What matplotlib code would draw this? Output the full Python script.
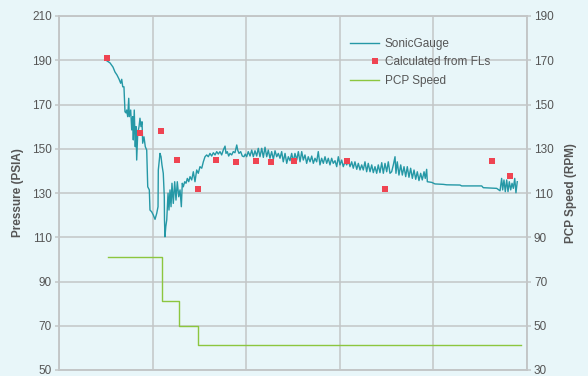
import matplotlib
matplotlib.use("Agg")
import matplotlib.pyplot as plt
from matplotlib.legend_handler import HandlerLine2D

# ---- data (time in days, pressure in PSIA, speed in RPM) ----
sonic_t = [5.13, 5.45, 5.77, 5.98, 6.20, 6.41, 6.59, 6.70, 6.81, 6.94, 7.05, 7.16, 7.23, 7.34, 7.45,
           7.51, 7.66, 7.77, 7.87, 7.94, 8.04, 8.15, 8.23, 8.30, 8.41, 8.55, 8.65, 8.76, 8.87, 8.94,
           9.08, 9.22, 9.37, 9.48, 9.65, 9.72, 9.90, 10.07, 10.26, 10.44, 10.58, 10.61, 10.72, 10.79,
           10.90, 11.00, 11.14, 11.25, 11.27, 11.32, 11.41, 11.51, 11.65, 11.75, 11.86, 11.97, 12.07,
           12.21, 12.36, 12.50, 12.64, 12.79, 12.93, 13.07, 13.17, 13.28, 13.43, 13.57, 13.71, 13.86,
           14.00, 14.18, 14.35, 14.53, 14.71, 14.88, 15.06, 15.25, 15.42, 15.60, 15.78, 15.95, 16.13,
           16.31, 16.49, 16.67, 16.85, 17.02, 17.20, 17.38, 17.55, 17.74, 17.84, 17.98, 18.13, 18.27,
           18.45, 18.62, 18.80, 18.99, 19.09, 19.23, 19.41, 19.58, 19.76, 19.90, 20.05, 20.22, 20.41,
           20.59, 20.76, 20.94, 21.12, 21.29, 21.47, 21.66, 21.83, 22.01, 22.19, 22.36, 22.54, 22.72,
           22.90, 23.08, 23.26, 23.43, 23.61, 23.79, 23.96, 24.15, 24.33, 24.50, 24.68, 24.86, 25.03,
           25.21, 25.40, 25.57, 25.75, 25.93, 26.10, 26.28, 26.46, 26.63, 26.82, 27.00, 27.17, 27.35,
           27.53, 27.70, 27.88, 28.06, 28.24, 28.42, 28.60, 28.77, 28.95, 29.13, 29.30, 29.49, 29.67,
           29.84, 30.02, 30.20, 30.37, 30.56, 30.74, 30.91, 31.09, 31.27, 31.44, 31.62, 31.81, 31.98,
           32.16, 32.34, 32.51, 32.69, 32.87, 33.04, 33.23, 33.41, 33.58, 33.76, 33.94, 34.11, 34.29,
           34.48, 34.65, 34.83, 35.01, 35.18, 35.36, 35.54, 35.72, 35.90, 36.00, 36.14, 36.32, 36.51,
           36.68, 36.86, 37.04, 37.21, 37.39, 37.57, 37.75, 37.93, 38.11, 38.28, 38.46, 38.64, 38.81,
           39.00, 39.13, 39.28, 39.35, 39.82, 40.17, 41.06, 41.42, 42.84, 43.02, 45.16, 45.33, 46.76,
           47.12, 47.29, 47.40, 47.54, 47.68, 47.83, 47.97, 48.11, 48.26, 48.40, 48.54, 48.69, 48.82,
           48.96]
sonic_p = [189.7, 188.8, 186.9, 184.7, 183.3, 181.5, 179.6, 181.4, 178.0, 178.0, 166.7, 166.2, 167.5,
           164.5, 172.8, 164.5, 167.5, 158.5, 164.5, 154.0, 167.5, 150.9, 160.0, 144.9, 157.0, 160.0,
           163.8, 160.0, 162.2, 152.5, 155.4, 150.9, 149.4, 132.8, 131.4, 122.3, 121.5, 120.1, 118.1,
           120.8, 123.8, 140.4, 144.9, 147.9, 146.4, 142.7, 138.9, 128.3, 117.8, 110.2, 114.8, 117.8,
           129.9, 122.3, 131.4, 123.8, 134.4, 125.3, 135.1, 126.8, 135.1, 128.3, 131.4, 123.8, 134.4,
           132.8, 135.1, 134.4, 136.6, 135.1, 137.4, 135.9, 139.6, 135.1, 140.4, 138.9, 141.9, 141.2,
           144.1, 146.4, 147.2, 146.4, 147.9, 146.7, 148.2, 147.2, 148.7, 147.6, 148.7, 147.2, 149.4,
           151.2, 147.9, 148.7, 146.7, 147.9, 147.2, 148.7, 148.2, 151.7, 149.4, 147.9, 148.7, 146.7,
           146.4, 147.6, 146.4, 148.7, 146.7, 149.4, 146.4, 149.1, 146.7, 150.2, 146.4, 150.2, 146.1,
           150.7, 146.4, 149.4, 145.7, 148.7, 145.2, 149.1, 146.4, 147.9, 145.7, 148.7, 144.1, 147.9,
           143.4, 146.4, 144.6, 147.9, 144.1, 147.9, 144.9, 148.7, 144.1, 148.7, 144.9, 147.2, 143.4,
           146.4, 144.1, 146.7, 143.4, 145.7, 144.1, 148.7, 142.7, 145.7, 143.4, 146.4, 143.4, 145.7,
           142.7, 145.7, 143.4, 144.6, 141.9, 146.4, 142.7, 144.9, 141.9, 144.1, 142.7, 144.9, 141.9,
           144.1, 141.2, 144.1, 140.7, 143.4, 140.4, 142.7, 140.4, 144.1, 139.6, 143.4, 139.6, 142.7,
           139.2, 141.9, 138.9, 142.7, 139.2, 143.7, 138.9, 143.4, 139.6, 144.1, 138.9, 139.6, 142.7,
           146.4, 138.9, 144.1, 138.1, 142.7, 138.1, 141.9, 137.4, 141.9, 137.1, 141.2, 136.6, 140.4,
           136.2, 139.6, 135.6, 138.9, 135.9, 139.6, 136.6, 140.7, 135.1, 134.8, 134.1, 133.9, 133.7,
           133.6, 133.2, 133.2, 132.4, 132.1, 131.0, 136.6, 131.4, 135.9, 130.6, 135.9, 130.6, 135.1,
           131.4, 134.4, 132.1, 136.6, 130.1, 135.1]

fl_t = [5.10, 8.65, 10.90, 12.61, 14.85, 16.74, 18.91, 21.05, 22.70, 25.11, 30.80, 34.83, 46.26, 48.18]
fl_p = [190.9, 157.3, 158.0, 144.8, 131.8, 144.8, 144.2, 144.5, 144.2, 144.5, 144.3, 131.7, 144.5, 137.8]

pcp_t = [5.24, 11.00, 12.79, 14.88, 49.33]
pcp_rpm = [81, 61, 50, 41.5, 41.5]

left_ticks = [50, 70, 90, 110, 130, 150, 170, 190, 210]
right_ticks = [30, 50, 70, 90, 110, 130, 150, 170, 190]

# ---- style ----
bg = "#e8f6f9"
grid_c = "#c3c6c7"
text_c = "#555555"
teal = "#2598a6"
red = "#ef4452"
green = "#8cc63f"

plt.rcParams["font.family"] = ["Liberation Sans", "DejaVu Sans"]


class RightMarkerHandler(HandlerLine2D):
    """Legend handler that puts the single marker near the right end of the handle."""
    def get_xdata(self, legend, xdescent, ydescent, width, height, fontsize):
        xr = -xdescent + width - 2.5
        return [xr, xr], [xr]


fig = plt.figure(figsize=(5.88, 3.76), dpi=100, facecolor=bg)
ax = fig.add_axes([59 / 588, 6 / 376, 468 / 588, 354 / 376])
ax.set_facecolor(bg)
ax2 = ax.twinx()

ax.set_xlim(0, 50)
ax.set_ylim(50, 210)
ax2.set_ylim(30, 190)
ax.set_xticks([0, 10, 20, 30, 40, 50])
ax.set_xticklabels([])
ax.set_yticks(left_ticks)
ax2.set_yticks(right_ticks)
ax.grid(True, color=grid_c, linewidth=1.1)
ax.set_axisbelow(True)

for a in (ax, ax2):
    for s in a.spines.values():
        s.set_color(grid_c)
        s.set_linewidth(1.1)
    a.tick_params(axis="both", colors=grid_c, labelcolor=text_c, labelsize=8.5,
                  length=3, width=1.1, pad=2)
ax.tick_params(axis="x", length=0)

l1, = ax.plot(sonic_t, sonic_p, color=teal, linewidth=1.0, label="SonicGauge")
l2, = ax.plot(fl_t, fl_p, linestyle="none", marker="s", markersize=5,
              color=red, markeredgewidth=0, label="Calculated from FLs", zorder=3)
l3, = ax2.plot(pcp_t, pcp_rpm, drawstyle="steps-post", color=green, linewidth=1.0,
               label="PCP Speed")

ax.set_ylabel("Pressure (PSIA)", fontsize=8.5, fontweight="bold", color=text_c, labelpad=6)
ax2.set_ylabel("PCP Speed (RPM)", fontsize=8.5, fontweight="bold", color=text_c,
               rotation=90, labelpad=8)

leg = ax2.legend(handles=[l1, l2, l3], loc="upper left", bbox_to_anchor=(0.61, 0.955),
                 frameon=False, fontsize=8.5, handlelength=2.4, handletextpad=0.5,
                 labelspacing=0.55, borderpad=0, markerscale=0.8,
                 handler_map={l2: RightMarkerHandler()})
for t in leg.get_texts():
    t.set_color(text_c)

fig.savefig("out.png", dpi=100, facecolor=bg)
